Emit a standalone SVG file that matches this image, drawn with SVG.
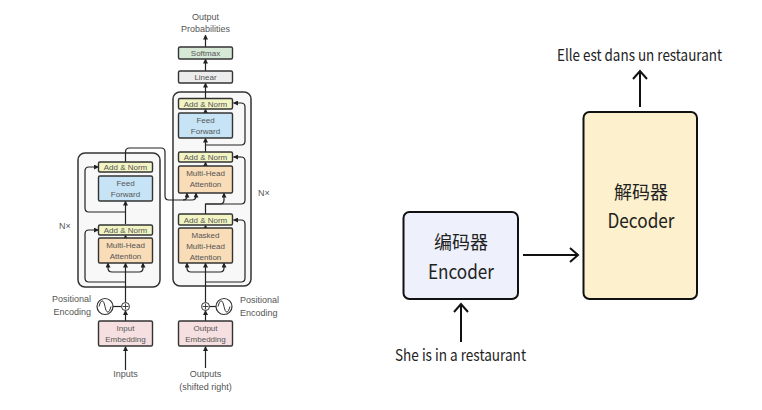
<svg xmlns="http://www.w3.org/2000/svg" width="762" height="410" viewBox="0 0 762 410">
<defs>
<marker id="ah" markerWidth="5" markerHeight="5" refX="4.5" refY="2.5" orient="auto" markerUnits="userSpaceOnUse"><path d="M0,0 L5,2.5 L0,5 Z" fill="#222"/></marker>
<marker id="ch" markerWidth="12" markerHeight="16" refX="9" refY="8" orient="auto" markerUnits="userSpaceOnUse"><path d="M1,1 L9,8 L1,15" fill="none" stroke="#111" stroke-width="2"/></marker>
<style>
.t{font-family:"Liberation Sans",Arial,sans-serif;fill:#555;text-anchor:middle}
.s{font-size:8px}
.m{font-size:9px}
.b{stroke:#333;stroke-width:1.4}
.an{fill:#f2f4c4}
.ff{fill:#c6e4f5}
.mha{fill:#f9dcb8}
.emb{fill:#f6dfe0}
.outer{fill:#f8f8f8;stroke:#333;stroke-width:1.5}
.ln{fill:none;stroke:#222;stroke-width:1.2}
.la{fill:none;stroke:#222;stroke-width:1.2;marker-end:url(#ah)}
.r{font-family:"Noto Sans CJK SC","Noto Sans",sans-serif;fill:#222;text-anchor:middle}
.big{fill:none;stroke:#111;stroke-width:2;marker-end:url(#ch)}
</style>
</defs>
<rect width="762" height="410" fill="#ffffff"/>

<!-- Left: Transformer -->
<g id="encoder-stack">
<rect class="outer" x="78" y="153" width="82" height="134" rx="7"/>
</g>
<g id="decoder-stack">
<rect class="outer" x="173" y="92" width="78" height="194" rx="7"/>
</g>

<g id="connectors-left">
<!-- encoder -->
<line class="la" x1="125.5" y1="302" x2="125.5" y2="263"/>
<path class="la" d="M125.5,272 H112 Q108,272 108,268 V263"/>
<path class="la" d="M125.5,272 H139 Q143,272 143,268 V263"/>
<path class="la" d="M125.5,282 H89 Q85,282 85,278 V234 Q85,230 89,230 H98.5"/>
<line class="la" x1="125.5" y1="238" x2="125.5" y2="235"/>
<line class="la" x1="125.5" y1="224" x2="125.5" y2="201"/>
<path class="la" d="M125.5,212 H89 Q85,212 85,208 V171 Q85,167 89,167 H98.5"/>
<path class="ln" d="M125.5,162 V152 Q125.5,148 129.5,148 H161 Q165,148 165,152 V196 Q165,200 169,200 H192 Q196,200 196,196 V193"/>
<path class="la" d="M183,200 Q187,200 187,196 V193"/>
<line class="la" x1="196" y1="196" x2="196" y2="193"/>
<!-- decoder -->
<line class="la" x1="205.5" y1="302" x2="205.5" y2="263"/>
<path class="la" d="M205.5,272 H191 Q187,272 187,268 V263"/>
<path class="la" d="M205.5,272 H220 Q224,272 224,268 V263"/>
<path class="la" d="M205.5,282 H241 Q245,282 245,278 V224 Q245,220 241,220 H233.5"/>
<line class="la" x1="205.5" y1="228" x2="205.5" y2="225"/>
<path class="ln" d="M205.5,214 V204 H241 Q245,204 245,200 V161 Q245,157 241,157"/>
<line class="la" x1="241" y1="157" x2="233.5" y2="157"/>
<path class="la" d="M205.5,204 H220 Q224,204 224,200 V193"/>
<line class="la" x1="205.5" y1="166" x2="205.5" y2="162"/>
<line class="la" x1="205.5" y1="152" x2="205.5" y2="138"/>
<path class="la" d="M205.5,145 H241 Q245,145 245,141 V107 Q245,103 241,103 H233.5"/>
<line class="la" x1="205.5" y1="113" x2="205.5" y2="109"/>
<line class="la" x1="205.5" y1="98" x2="205.5" y2="83"/>
<line class="la" x1="205.5" y1="71" x2="205.5" y2="59"/>
<line class="la" x1="205.5" y1="47" x2="205.5" y2="35"/>
<!-- embeddings and positional encodings -->
<line class="la" x1="125.5" y1="321" x2="125.5" y2="310.5"/>
<line class="la" x1="125.5" y1="370" x2="125.5" y2="346.5"/>
<line class="ln" x1="113" y1="306.5" x2="121.5" y2="306.5"/>
<line class="la" x1="205.5" y1="321" x2="205.5" y2="310.5"/>
<line class="la" x1="205.5" y1="368" x2="205.5" y2="346.5"/>
<line class="ln" x1="209.5" y1="306.5" x2="216" y2="306.5"/>
</g>

<g id="enc-pe">
<circle cx="105" cy="306.5" r="8" fill="#fff" stroke="#333" stroke-width="1.2"/>
<path d="M99,306.5 C101,299 103.5,299 105,306.5 S109,314 111,306.5" fill="none" stroke="#333" stroke-width="1"/>
</g>
<g id="enc-add">
<circle cx="125.5" cy="306.5" r="4" fill="#fff" stroke="#333" stroke-width="1"/>
<path d="M122.5,306.5 H128.5 M125.5,303.5 V309.5" stroke="#333" stroke-width="0.9"/>
</g>
<g id="dec-pe">
<circle cx="224" cy="306.5" r="8" fill="#fff" stroke="#333" stroke-width="1.2"/>
<path d="M218,306.5 C220,299 222.5,299 224,306.5 S228,314 230,306.5" fill="none" stroke="#333" stroke-width="1"/>
</g>
<g id="dec-add">
<circle cx="205.5" cy="306.5" r="4" fill="#fff" stroke="#333" stroke-width="1"/>
<path d="M202.5,306.5 H208.5 M205.5,303.5 V309.5" stroke="#333" stroke-width="0.9"/>
</g>

<g id="enc-addnorm2"><rect class="b an" x="98.5" y="162" width="54" height="10" rx="1.5"/><text class="t s" x="125.5" y="170">Add &amp; Norm</text></g>
<g id="enc-ff"><rect class="b ff" x="98.5" y="176" width="54" height="25" rx="1.5"/><text class="t s" x="125.5" y="186">Feed</text><text class="t s" x="125.5" y="197">Forward</text></g>
<g id="enc-addnorm1"><rect class="b an" x="98.5" y="225" width="54" height="10" rx="1.5"/><text class="t s" x="125.5" y="233">Add &amp; Norm</text></g>
<g id="enc-mha"><rect class="b mha" x="98.5" y="238" width="54" height="25" rx="1.5"/><text class="t s" x="125.5" y="248">Multi-Head</text><text class="t s" x="125.5" y="259">Attention</text></g>
<g id="enc-emb"><rect class="b emb" x="98.5" y="321" width="54" height="25" rx="1.5"/><text class="t s" x="125.5" y="331">Input</text><text class="t s" x="125.5" y="342">Embedding</text></g>

<g id="softmax"><rect class="b" fill="#d6e9d6" x="178.5" y="47" width="54" height="12" rx="1.5"/><text class="t s" x="205.5" y="56">Softmax</text></g>
<g id="linear"><rect class="b" fill="#ececec" x="178.5" y="71" width="54" height="12" rx="1.5"/><text class="t s" x="205.5" y="80">Linear</text></g>
<g id="dec-addnorm3"><rect class="b an" x="178.5" y="98.5" width="54" height="10.5" rx="1.5"/><text class="t s" x="205.5" y="106.5">Add &amp; Norm</text></g>
<g id="dec-ff"><rect class="b ff" x="178.5" y="113" width="54" height="25" rx="1.5"/><text class="t s" x="205.5" y="123">Feed</text><text class="t s" x="205.5" y="134">Forward</text></g>
<g id="dec-addnorm2"><rect class="b an" x="178.5" y="152" width="54" height="10" rx="1.5"/><text class="t s" x="205.5" y="160">Add &amp; Norm</text></g>
<g id="dec-mha"><rect class="b mha" x="178.5" y="166" width="54" height="27" rx="1.5"/><text class="t s" x="205.5" y="176">Multi-Head</text><text class="t s" x="205.5" y="187">Attention</text></g>
<g id="dec-addnorm1"><rect class="b an" x="178.5" y="214" width="54" height="11" rx="1.5"/><text class="t s" x="205.5" y="222.5">Add &amp; Norm</text></g>
<g id="dec-masked"><rect class="b mha" x="178.5" y="228" width="54" height="35" rx="1.5"/><text class="t s" x="205.5" y="238">Masked</text><text class="t s" x="205.5" y="249">Multi-Head</text><text class="t s" x="205.5" y="260">Attention</text></g>
<g id="dec-emb"><rect class="b emb" x="178.5" y="321" width="54" height="25" rx="1.5"/><text class="t s" x="205.5" y="331">Output</text><text class="t s" x="205.5" y="342">Embedding</text></g>

<g id="labels-left">
<text class="t m" x="205.5" y="20">Output</text>
<text class="t m" x="205.5" y="32">Probabilities</text>
<text class="t m" x="65" y="229">N×</text>
<text class="t m" x="264" y="196">N×</text>
<text class="t m" x="91" y="302" style="text-anchor:end">Positional</text>
<text class="t m" x="91" y="315" style="text-anchor:end">Encoding</text>
<text class="t m" x="240" y="303" style="text-anchor:start">Positional</text>
<text class="t m" x="240" y="316" style="text-anchor:start">Encoding</text>
<text class="t m" x="125.5" y="377">Inputs</text>
<text class="t m" x="205.5" y="377">Outputs</text>
<text class="t m" x="205.5" y="390">(shifted right)</text>
</g>

<!-- Right: Encoder-Decoder -->
<g id="connectors-right">
<line class="big" x1="461" y1="342" x2="461" y2="304"/>
<line class="big" x1="523" y1="255" x2="578" y2="255"/>
<line class="big" x1="640" y1="107" x2="640" y2="71"/>
</g>
<g id="encoder">
<rect x="403.5" y="212" width="114.5" height="87" rx="6" fill="#eef1fb" stroke="#111" stroke-width="2"/>
<text class="r" x="461" y="249" font-size="18">编码器</text>
<text class="r" x="461" y="279" font-size="20" textLength="66" lengthAdjust="spacingAndGlyphs">Encoder</text>
</g>
<g id="decoder">
<rect x="583.5" y="112" width="113.5" height="187" rx="6" fill="#fcf0cd" stroke="#111" stroke-width="2"/>
<text class="r" x="641" y="199" font-size="18">解码器</text>
<text class="r" x="641" y="228" font-size="20" textLength="67" lengthAdjust="spacingAndGlyphs">Decoder</text>
</g>
<g id="labels-right">
<text class="r" x="639.5" y="61" font-size="16" textLength="165" lengthAdjust="spacingAndGlyphs">Elle est dans un restaurant</text>
<text class="r" x="460.5" y="361" font-size="16" textLength="131" lengthAdjust="spacingAndGlyphs">She is in a restaurant</text>
</g>
</svg>
